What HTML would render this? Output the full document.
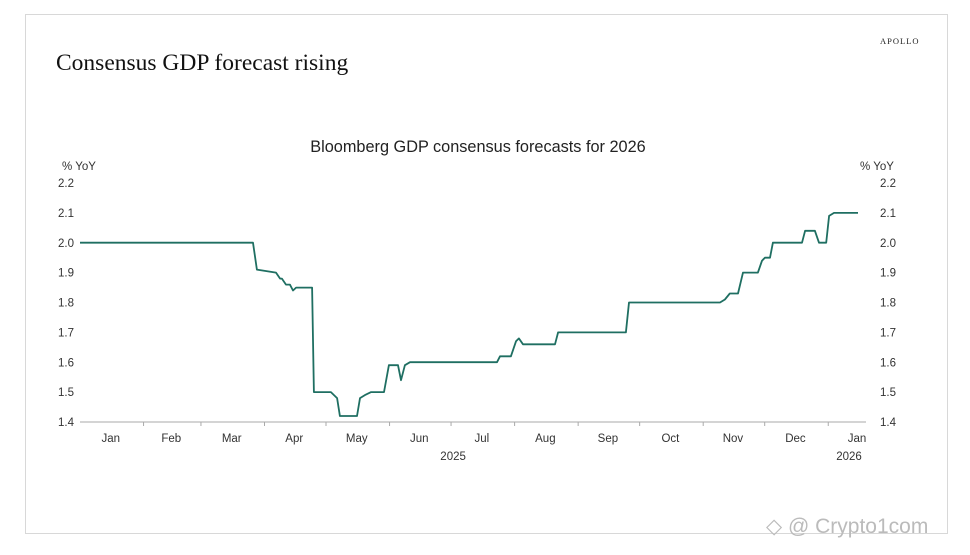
<!DOCTYPE html>
<html><head><meta charset="utf-8"><style>
body{margin:0;background:#fff;width:970px;height:555px;overflow:hidden;font-family:"Liberation Sans",sans-serif}
#frame{position:absolute;left:25px;top:14px;width:921px;height:518px;border:1px solid #d8d8d8}
.t{position:absolute;white-space:nowrap}
</style></head><body>
<div id="frame"></div>
<div class="t" style="left:56px;top:50px;font-family:'Liberation Serif',serif;font-size:23.5px;color:#111">Consensus GDP forecast rising</div>
<div class="t" style="left:880px;top:36px;font-family:'Liberation Serif',serif;font-size:8.5px;letter-spacing:1px;color:#222">APOLLO</div>
<div class="t" style="left:766px;top:514px;font-size:21px;color:#bbb">◇ @ Crypto1com</div>
<svg id="chart" width="970" height="555" style="position:absolute;left:0;top:0"></svg>
<script>
const days=[0,84.4,86.3,95.6,97.6,98.5,100.5,102.4,103.9,105.4,113.2,114.1,122.4,123.9,125.4,126.8,135.1,136.6,139,142,148.3,150.7,155.1,156.6,158.5,161,203.4,204.9,210.2,212.7,214.1,216.1,231.7,233.2,266.3,267.8,312.2,314.6,317,321,323.4,330.7,332.7,334.1,336.6,338,352.2,353.7,358.5,360.5,364,365.4,367.8,379.5];
const values=[2.0,2.0,1.91,1.90,1.88,1.88,1.86,1.86,1.84,1.85,1.85,1.50,1.50,1.49,1.48,1.42,1.42,1.48,1.49,1.50,1.50,1.59,1.59,1.54,1.59,1.60,1.60,1.62,1.62,1.67,1.68,1.66,1.66,1.70,1.70,1.80,1.80,1.81,1.83,1.83,1.90,1.90,1.94,1.95,1.95,2.00,2.00,2.04,2.04,2.00,2.00,2.09,2.10,2.10];
const yTicks=["1.4","1.5","1.6","1.7","1.8","1.9","2.0","2.1","2.2"];
const months=["Jan","Feb","Mar","Apr","May","Jun","Jul","Aug","Sep","Oct","Nov","Dec","Jan"];
const monthStart=[0,31,59,90,120,151,181,212,243,273,304,334,365,396];
const years=[["2025",182],["2026",380]];
const NS="http://www.w3.org/2000/svg",svg=document.getElementById('chart');
const x=d=>80+d*2.05, y=v=>422-(v-1.4)*298.75;
function el(tag,attrs,txt){const e=document.createElementNS(NS,tag);for(const k in attrs)e.setAttribute(k,attrs[k]);if(txt!==undefined)e.textContent=txt;svg.appendChild(e);return e;}
let t=el('text',{x:478,y:152,'text-anchor':'middle','font-size':16.3,fill:'#222','font-family':'Liberation Sans, sans-serif'},'Bloomberg GDP consensus forecasts for 2026');


t=el('text',{x:62,y:170,'font-size':11.5,fill:'#333'},'% YoY');


t=el('text',{x:860,y:170,'font-size':11.5,fill:'#333'},'% YoY');


yTicks.forEach(s=>{const v=parseFloat(s);
 let a=el('text',{x:74,y:y(v)+4,'text-anchor':'end','font-size':11.5,fill:'#333'},s);
 
 
 let b=el('text',{x:880,y:y(v)+4,'font-size':11.5,fill:'#333'},s);
 
 
});
let ax=el('line',{x1:80,x2:866,y1:422,y2:422,stroke:'#aaa','stroke-width':1});


monthStart.forEach((d,i)=>{if(i>0&&x(d)<=866){const tk=el('line',{x1:x(d),x2:x(d),y1:422,y2:426,stroke:'#aaa'});
 
 }});
months.forEach((m,i)=>{const mid=(monthStart[i]+monthStart[i+1])/2;
 const lb=el('text',{x:Math.min(x(mid)-1,857),y:442,'text-anchor':'middle','font-size':11.5,fill:'#333'},m);
 
 });
years.forEach(([s,d])=>{
 const lb=el('text',{x:Math.min(x(d),849),y:460,'text-anchor':'middle','font-size':11.5,fill:'#333'},s);
 
 });
const pts=days.map((d,i)=>x(d).toFixed(1)+','+y(values[i]).toFixed(1)).join(' ');
const line=el('polyline',{points:pts,fill:'none',stroke:'#1f6f62','stroke-width':1.8,'stroke-linejoin':'round'});


</script>
</body></html>
